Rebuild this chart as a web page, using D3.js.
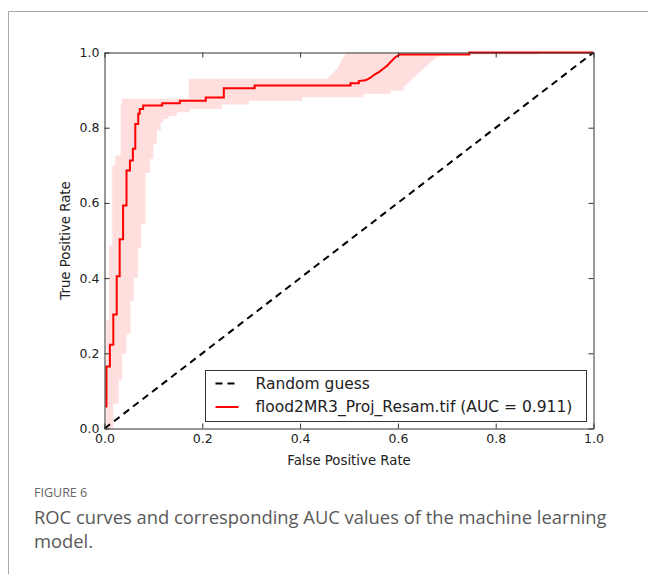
<!DOCTYPE html>
<html>
<head>
<meta charset="utf-8">
<script src="https://cdn.jsdelivr.net/npm/d3@7"></script>
<style>
  html, body { margin: 0; padding: 0; background: #fff; }
  svg { display: block; }
</style>
</head>
<body>
<svg id="chart" width="648" height="574"></svg>
<script>
// mean ROC curve, corners as [fpr, tpr]
const meanRoc = [
  [0.004,0.056],[0.004,0.165],[0.011,0.165],[0.011,0.223],[0.018,0.223],[0.018,0.303],
  [0.025,0.303],[0.025,0.405],[0.031,0.405],[0.031,0.503],[0.038,0.503],[0.038,0.593],
  [0.045,0.593],[0.045,0.686],[0.052,0.686],[0.052,0.713],[0.058,0.713],[0.058,0.744],
  [0.063,0.744],[0.063,0.81],[0.069,0.81],[0.069,0.837],[0.072,0.837],[0.072,0.85],
  [0.079,0.85],[0.079,0.859],[0.118,0.859],[0.118,0.865],[0.154,0.865],[0.154,0.872],
  [0.207,0.872],[0.207,0.88],[0.244,0.88],[0.244,0.905],[0.307,0.905],[0.307,0.912],
  [0.503,0.912],[0.503,0.918],[0.52,0.918],[0.52,0.924],[0.534,0.926],[0.544,0.933],
  [0.552,0.941],[0.561,0.948],[0.570,0.957],[0.578,0.965],[0.586,0.976],[0.595,0.988],
  [0.605,0.995],[0.746,0.995],[0.746,1],[1,1]
];

// +/- 1 std band edges
const upperBand = [
  [0.004,0],[0.004,0.287],[0.009,0.287],[0.009,0.487],[0.016,0.487],[0.016,0.70],
  [0.022,0.70],[0.022,0.726],[0.033,0.726],[0.033,0.864],[0.036,0.864],[0.036,0.877],
  [0.172,0.877],[0.172,0.93],[0.455,0.93],[0.476,0.957],[0.486,0.983],[0.493,0.995],
  [0.493,1],[1,1]
];
const lowerBand = [
  [0,0],[0.018,0],[0.018,0.066],[0.029,0.066],[0.029,0.128],[0.036,0.128],[0.036,0.199],
  [0.045,0.199],[0.045,0.252],[0.053,0.252],[0.053,0.34],[0.06,0.34],[0.06,0.40],
  [0.068,0.40],[0.068,0.48],[0.075,0.48],[0.075,0.544],[0.084,0.544],[0.084,0.68],
  [0.093,0.68],[0.093,0.717],[0.1,0.717],[0.1,0.757],[0.107,0.757],[0.107,0.793],
  [0.115,0.793],[0.115,0.815],[0.121,0.815],[0.121,0.824],[0.131,0.824],[0.131,0.832],
  [0.148,0.832],[0.148,0.841],[0.175,0.841],[0.175,0.85],[0.24,0.85],[0.24,0.862],
  [0.295,0.862],[0.295,0.872],[0.404,0.872],[0.404,0.881],[0.53,0.881],[0.53,0.89],
  [0.585,0.89],[0.585,0.899],[0.612,0.899],[0.612,0.908],[0.63,0.93],[0.65,0.955],
  [0.68,0.988],[0.695,0.995],[0.887,0.995],[0.887,1],[1,1]
];

const diagonal = [[0,0],[1,1]];
const xTicks = [0, 0.2, 0.4, 0.6, 0.8, 1.0];
const yTicks = [0, 0.2, 0.4, 0.6, 0.8, 1.0];
const legendLabels = ["Random guess", "flood2MR3_Proj_Resam.tif (AUC = 0.911)"];
const captionLines = ["ROC curves and corresponding AUC values of the machine learning", "model."];

const svg = d3.select("#chart");
const font = "'DejaVu Sans', sans-serif";
const capFont = "'Open Sans', Lato, sans-serif";

// figure frame
svg.append("path")
  .attr("d", "M8.5,574V11.5H648")
  .attr("fill", "none")
  .attr("stroke", "#a8a8a8")
  .attr("stroke-width", 1);

const x = d3.scaleLinear().domain([0, 1]).range([104.5, 593.5]);
const y = d3.scaleLinear().domain([0, 1]).range([428.5, 52.5]);

const line = d3.line().x(d => x(d[0])).y(d => y(d[1]));

// confidence band
svg.append("path")
  .attr("d", line(upperBand.concat(lowerBand.slice().reverse())) + "Z")
  .attr("fill", "#ffdede")
  .attr("stroke", "none");

// random guess
svg.append("path")
  .attr("d", line(diagonal))
  .attr("fill", "none")
  .attr("stroke", "#000")
  .attr("stroke-width", 2)
  .attr("stroke-dasharray", "7,5");

// mean roc
svg.append("path")
  .attr("d", line(meanRoc))
  .attr("fill", "none")
  .attr("stroke", "#ff0000")
  .attr("stroke-width", 2);

// axes
const fmt = d3.format(".1f");
const gx = svg.append("g")
  .attr("transform", `translate(0,${y(0)})`)
  .call(d3.axisBottom(x).tickValues(xTicks).tickFormat(fmt).tickSizeInner(-5).tickSizeOuter(0).tickPadding(6));
const gy = svg.append("g")
  .attr("transform", `translate(${x(0)},0)`)
  .call(d3.axisLeft(y).tickValues(yTicks).tickFormat(fmt).tickSizeInner(-5).tickSizeOuter(0).tickPadding(5));
const gt = svg.append("g")
  .attr("transform", `translate(0,${y(1)})`)
  .call(d3.axisTop(x).tickValues(xTicks).tickFormat("").tickSizeInner(-5).tickSizeOuter(0));
const gr = svg.append("g")
  .attr("transform", `translate(${x(1)},0)`)
  .call(d3.axisRight(y).tickValues(yTicks).tickFormat("").tickSizeInner(-5).tickSizeOuter(0));

[gx, gy, gt, gr].forEach(g => {
  g.select(".domain").attr("stroke", "#333");
  g.selectAll(".tick line").attr("stroke", "#333");
  g.selectAll("text").attr("font-family", font).attr("font-size", 12.5).attr("fill", "#222");
});

svg.append("text")
  .attr("x", (x(0) + x(1)) / 2)
  .attr("y", 465)
  .attr("text-anchor", "middle")
  .attr("font-family", font)
  .attr("font-size", 13.3)
  .attr("fill", "#222")
  .text("False Positive Rate");

svg.append("text")
  .attr("transform", `translate(70,${(y(0) + y(1)) / 2}) rotate(-90)`)
  .attr("text-anchor", "middle")
  .attr("font-family", font)
  .attr("font-size", 13.3)
  .attr("fill", "#222")
  .text("True Positive Rate");

// legend
const lg = svg.append("g").attr("transform", "translate(205.5,370.5)");
lg.append("rect")
  .attr("width", 381)
  .attr("height", 51)
  .attr("fill", "#fff")
  .attr("stroke", "#333");
const styles = [
  { stroke: "#000", dash: "7,5" },
  { stroke: "#ff0000", dash: null }
];
legendLabels.forEach((label, i) => {
  const cy = 13 + i * 23.5;
  lg.append("line")
    .attr("x1", 10).attr("x2", 33)
    .attr("y1", cy).attr("y2", cy)
    .attr("stroke", styles[i].stroke)
    .attr("stroke-width", 2)
    .attr("stroke-dasharray", styles[i].dash);
  lg.append("text")
    .attr("x", 50)
    .attr("y", cy)
    .attr("dy", "0.35em")
    .attr("font-family", font)
    .attr("font-size", 15.5)
    .attr("fill", "#222")
    .text(label);
});

// caption
svg.append("text")
  .attr("x", 34)
  .attr("y", 497)
  .attr("font-family", capFont)
  .attr("font-size", 12.5)
  .attr("fill", "#666")
  .text("FIGURE 6");
const cap = svg.selectAll(".cap")
  .data(captionLines)
  .enter()
  .append("text")
  .attr("class", "cap")
  .attr("x", 34)
  .attr("y", (d, i) => 524 + i * 24)
  .attr("font-family", capFont)
  .attr("font-size", 17)
  .attr("fill", "#5a5a5a")
  .text(d => d);
// fit the first caption line to the width seen in the picture
const w0 = cap.node().getComputedTextLength();
if (w0 > 0) cap.attr("font-size", 17 * 573 / w0);
</script>
</body>
</html>
